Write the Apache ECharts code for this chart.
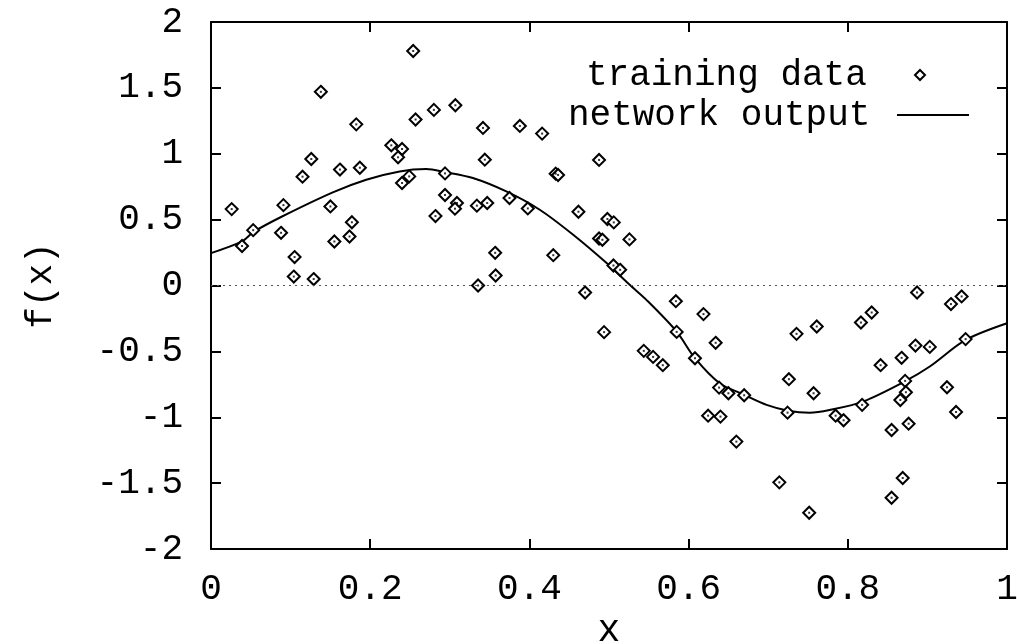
<!DOCTYPE html>
<html>
<head>
    <meta charset="UTF-8">
    <title>training data / network output</title>
    <script src="https://cdn.jsdelivr.net/npm/echarts@6/dist/echarts.min.js"></script>
</head>
<body style="margin:0">
<div id="main" style="width: 1017px;height:644px;"></div>
<script type="text/javascript">
    // training points [x, f(x)]
    let trainingData = [
        [0.026, 0.58], [0.039, 0.30], [0.053, 0.42], [0.088, 0.40], [0.091, 0.61],
        [0.105, 0.216], [0.104, 0.068], [0.115, 0.826], [0.126, 0.96], [0.129, 0.049],
        [0.138, 1.47], [0.150, 0.60], [0.155, 0.334], [0.162, 0.88], [0.174, 0.372],
        [0.177, 0.48], [0.1825, 1.223], [0.187, 0.894], [0.2265, 1.064], [0.24, 1.036],
        [0.235, 0.973], [0.24, 0.778], [0.249, 0.828], [0.254, 1.78], [0.257, 1.26],
        [0.280, 1.333], [0.282, 0.527], [0.294, 0.851], [0.294, 0.687], [0.307, 1.368],
        [0.309, 0.626], [0.3065, 0.583], [0.334, 0.606], [0.3355, 0.0], [0.3417, 1.196],
        [0.388, 1.211], [0.416, 1.153], [0.344, 0.955], [0.4875, 0.953], [0.433, 0.849],
        [0.436, 0.839], [0.347, 0.626], [0.375, 0.664], [0.398, 0.585], [0.4616, 0.56],
        [0.498, 0.505], [0.506, 0.479], [0.4875, 0.357], [0.4917, 0.347], [0.5257, 0.35],
        [0.357, 0.248], [0.430, 0.23], [0.3576, 0.076], [0.5056, 0.152], [0.514, 0.119],
        [0.47, -0.053], [0.4938, -0.354], [0.584, -0.119], [0.585, -0.352], [0.5437, -0.496],
        [0.5554, -0.542], [0.5676, -0.605], [0.608, -0.552], [0.6187, -0.217], [0.634, -0.435],
        [0.6383, -0.775], [0.650, -0.818], [0.6245, -0.988], [0.640, -0.995], [0.660, -1.185],
        [0.6698, -0.833], [0.7356, -0.367], [0.761, -0.311], [0.726, -0.711], [0.757, -0.818],
        [0.7243, -0.965], [0.714, -1.494], [0.7515, -1.725], [0.7847, -0.988], [0.7947, -1.023],
        [0.818, -0.906], [0.8165, -0.281], [0.830, -0.205], [0.8412, -0.605], [0.855, -1.097],
        [0.855, -1.611], [0.869, -1.461], [0.8676, -0.549], [0.872, -0.724], [0.873, -0.81],
        [0.866, -0.869], [0.8764, -1.049], [0.887, -0.053], [0.885, -0.456], [0.903, -0.466],
        [0.9246, -0.772], [0.936, -0.96], [0.9296, -0.141], [0.943, -0.083], [0.948, -0.407]
    ];

    // network output curve
    let networkOutput = [
        [0, 0.246], [0.039, 0.335], [0.053, 0.405], [0.088, 0.52], [0.153, 0.707],
        [0.195, 0.803], [0.237, 0.866], [0.2705, 0.884], [0.294, 0.861], [0.329, 0.816],
        [0.371, 0.714], [0.413, 0.575], [0.455, 0.385], [0.497, 0.17], [0.526, 0.005],
        [0.547, -0.109], [0.585, -0.35], [0.608, -0.552], [0.639, -0.742], [0.670, -0.83],
        [0.698, -0.906], [0.725, -0.95], [0.752, -0.965], [0.777, -0.945], [0.819, -0.881],
        [0.871, -0.73], [0.903, -0.615], [0.948, -0.413], [1.0, -0.286]
    ];

    let seriesNames = ['training data', 'network output'];

    const font = 'Liberation Mono';
    const axisLine = {show: true, onZero: false, lineStyle: {color: '#000', width: 2}};
    const tick = {show: true, inside: true, length: 10, lineStyle: {color: '#000', width: 2}};
    const legendText = {fontFamily: font, fontSize: 36, color: '#000'};

    var myChart = echarts.init(document.getElementById('main'));

    let option = {
        animation: false,
        backgroundColor: '#fff',
        grid: {left: 211, right: 10, top: 22, bottom: 95, outerBoundsMode: 'none', containLabel: false},
        legend: [
            {
                right: 86, top: 52, align: 'right',
                itemWidth: 10, itemHeight: 10,
                formatter: name => name + '  ',
                textStyle: legendText,
                data: [seriesNames[0]]
            },
            {
                // itemHeight 2 keeps the line's legend dot hidden in the sample line
                right: 42, top: 92, align: 'right',
                itemWidth: 72, itemHeight: 2,
                formatter: name => name + ' ',
                textStyle: legendText,
                data: [seriesNames[1]]
            }
        ],
        xAxis: [
            {
                type: 'value', min: 0, max: 1, interval: 0.2,
                name: 'x', nameLocation: 'middle', nameGap: 60,
                nameTextStyle: {fontFamily: font, fontSize: 38, color: '#000'},
                axisLine: axisLine, axisTick: tick, splitLine: {show: false},
                axisLabel: {fontFamily: font, fontSize: 36, color: '#000', margin: 22}
            },
            {
                type: 'value', min: 0, max: 1, interval: 0.2, position: 'top',
                axisLine: axisLine, axisTick: tick, splitLine: {show: false},
                axisLabel: {show: false}
            }
        ],
        yAxis: [
            {
                type: 'value', min: -2, max: 2, interval: 0.5,
                name: 'f(x)', nameLocation: 'middle', nameRotate: 90, nameGap: 152,
                nameTextStyle: {fontFamily: font, fontSize: 36, color: '#000'},
                axisLine: axisLine, axisTick: tick, splitLine: {show: false},
                axisLabel: {fontFamily: font, fontSize: 36, color: '#000', margin: 28}
            },
            {
                type: 'value', min: -2, max: 2, interval: 0.5, position: 'right',
                axisLine: axisLine, axisTick: tick, splitLine: {show: false},
                axisLabel: {show: false}
            }
        ],
        series: [
            {
                name: seriesNames[1],
                type: 'line',
                smooth: 0.3,
                showSymbol: false,
                symbol: 'none',
                itemStyle: {color: '#000'},
                lineStyle: {color: '#000', width: 2},
                data: networkOutput,
                markLine: {
                    silent: true,
                    symbol: 'none',
                    label: {show: false},
                    lineStyle: {type: [2, 4], color: '#555', width: 1},
                    data: [{yAxis: 0}]
                },
                z: 2
            },
            {
                name: seriesNames[0],
                type: 'scatter',
                symbol: 'diamond',
                symbolSize: 12,
                itemStyle: {color: '#fff', borderColor: '#000', borderWidth: 2, opacity: 1},
                data: trainingData,
                z: 3
            },
            {
                // centre dot of each gnuplot diamond
                name: 'dot',
                type: 'scatter',
                symbol: 'rect',
                symbolSize: 2,
                silent: true,
                itemStyle: {color: '#000'},
                data: trainingData,
                z: 4
            }
        ]
    };

    myChart.setOption(option);
</script>
</body>
</html>
